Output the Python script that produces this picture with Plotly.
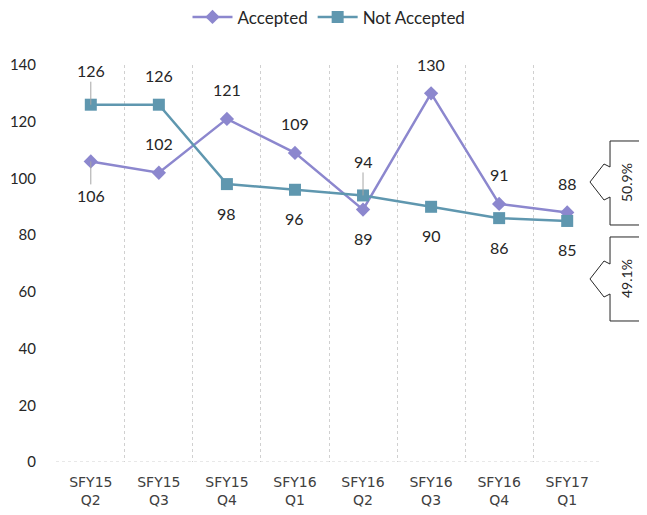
import plotly.graph_objects as go

periodos = ["SFY15<br>Q2", "SFY15<br>Q3", "SFY15<br>Q4", "SFY16<br>Q1",
            "SFY16<br>Q2", "SFY16<br>Q3", "SFY16<br>Q4", "SFY17<br>Q1"]
aceptados = [106, 102, 121, 109, 89, 130, 91, 88]
no_aceptados = [126, 126, 98, 96, 94, 90, 86, 85]

# posicion de las etiquetas: 1 arriba, -1 abajo, 2 arriba con linea guia, -2 abajo con linea guia
pos_aceptados = [-2, 1, 1, 1, -1, 1, 1, 1]
pos_no_aceptados = [2, 1, -1, -1, 2, -1, -1, -1]

COLOR_A = "#8C87CE"
COLOR_NA = "#5F97AF"
FUENTE = "Lato, 'Open Sans', sans-serif"

# el navegador deja 8px de margen en el body
OFF = 8
L, T, W, H = 56 - OFF, 65 - OFF, 546, 397

fig = go.Figure()
fig.add_trace(go.Scatter(x=periodos, y=aceptados, name="Accepted", mode="lines+markers",
                         line=dict(color=COLOR_A, width=2.5),
                         marker=dict(symbol="diamond", size=11, color=COLOR_A)))
fig.add_trace(go.Scatter(x=periodos, y=no_aceptados, name="Not Accepted", mode="lines+markers",
                         line=dict(color=COLOR_NA, width=2.5),
                         marker=dict(symbol="square", size=12, color=COLOR_NA)))

for serie, posiciones in [(aceptados, pos_aceptados), (no_aceptados, pos_no_aceptados)]:
    for cat, val, p in zip(periodos, serie, posiciones):
        signo = 1 if p > 0 else -1
        if abs(p) == 2:
            fig.add_annotation(x=cat, y=val, text=str(val), showarrow=True, arrowhead=0,
                               arrowwidth=1, arrowcolor="#A6A6A6", ax=0, ay=-34 * signo,
                               font=dict(family=FUENTE, size=16, color="#262626"))
        else:
            fig.add_annotation(x=cat, y=val, text=str(val), showarrow=False,
                               yshift=29 * signo,
                               font=dict(family=FUENTE, size=16, color="#262626"))

# llamadas con el porcentaje del ultimo trimestre
total = aceptados[-1] + no_aceptados[-1]
pct_a = f"{aceptados[-1] / total * 100:.1f}%"
pct_na = f"{no_aceptados[-1] / total * 100:.1f}%"

def a_paper(px, py):
    return (px - 56) / W, (462 - py) / H

def llamada(top, bottom, tip_y):
    pts = [(660, top), (610, top), (610, tip_y - 15), (604, tip_y - 18), (590, tip_y),
           (604, tip_y + 18), (610, tip_y + 15), (610, bottom), (660, bottom)]
    pts = [a_paper(x, y) for x, y in pts]
    return "M " + " L ".join(f"{x:.4f},{y:.4f}" for x, y in pts)

for top, bottom, tip, texto in [(141, 225, 182, pct_a), (237, 321, 279, pct_na)]:
    fig.add_shape(type="path", path=llamada(top, bottom, tip), xref="paper", yref="paper",
                  line=dict(color="#262626", width=1), fillcolor="white")
    cx, cy = a_paper(626, (top + bottom) / 2)
    fig.add_annotation(x=cx, y=cy, xref="paper", yref="paper", text=texto, showarrow=False,
                       xanchor="center", yanchor="middle", textangle=-90,
                       font=dict(family=FUENTE, size=14, color="#262626"))

fig.update_xaxes(type="category", tickson="boundaries", showgrid=True, gridcolor="#D0D0D0",
                 griddash="dot", gridwidth=1, showline=False, ticks="", zeroline=False,
                 ticklabelstandoff=10,
                 tickfont=dict(family="DejaVu Sans", size=14, color="#404040"))
fig.update_yaxes(range=[0, 140], dtick=20, showgrid=False, showline=False, zeroline=False,
                 ticks="", ticklabelstandoff=19,
                 tickfont=dict(family=FUENTE, size=15, color="#262626"))

fig.add_shape(type="line", xref="paper", yref="y", x0=0, x1=1, y0=0, y1=0,
              line=dict(color="#D0D0D0", width=1, dash="dot"))

fig.update_layout(
    width=647, height=515,
    margin=dict(l=L, r=647 - L - W, t=T, b=515 - T - H, autoexpand=False),
    plot_bgcolor="white", paper_bgcolor="white",
    showlegend=True,
    legend=dict(orientation="h", x=0.5, xanchor="center", y=1.12, yanchor="middle",
                font=dict(family=FUENTE, size=17, color="#262626"), itemwidth=40),
)

fig.write_html("out.html")
